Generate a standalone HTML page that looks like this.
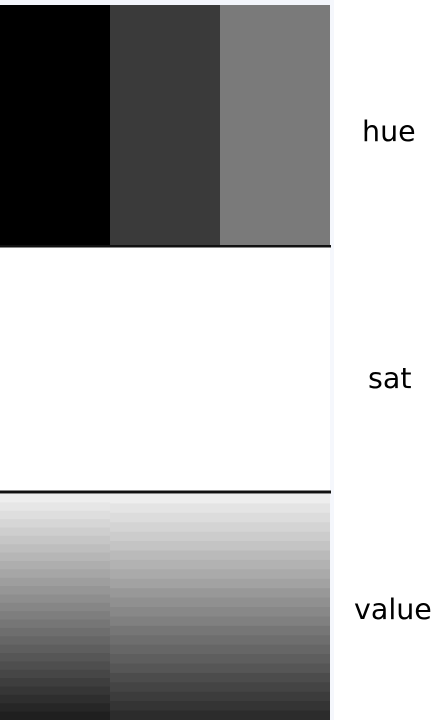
<!DOCTYPE html>
<html><head><meta charset="utf-8"><style>
html,body{margin:0;padding:0;background:#ffffff;width:440px;height:720px;overflow:hidden}
svg{display:block}
text{font-family:"DejaVu Sans","Liberation Sans",sans-serif;font-size:28.5px;fill:#000}
</style></head><body>
<svg id="chart" width="440" height="720">
<rect x="0" y="0" width="440" height="720" fill="#ffffff"/>
<rect x="0" y="0" width="331" height="5" fill="#f3f5fb"/>
<rect x="330" y="0" width="4" height="720" fill="#f5f7fc"/>
<g id="hue"></g>
<rect x="0" y="248" width="330" height="243" fill="#ffffff"/>
<g id="val"></g>
<rect x="0" y="245" width="331" height="2.5" fill="#111"/>
<rect x="0" y="490.5" width="331" height="3" fill="#111"/>
<text x="362" y="141">hue</text>
<text x="368" y="388">sat</text>
<text x="354" y="619">value</text>
</svg>
<script>
const hueGrays=[0,58,122];
const leftValues=[238,230,222,214,206,198,190,182,174,166,158,150,142,134,126,118,110,102,94,86,78,70,62,54,46,38,31];
const rightValues=[238,228,220,212,204,196,186,178,170,162,152,144,136,128,118,110,102,94,86,76,68,60,52,44];
const ns="http://www.w3.org/2000/svg";
const colW=110;
const hue=document.getElementById('hue');
hueGrays.forEach((g,i)=>{
  const r=document.createElementNS(ns,'rect');
  r.setAttribute('x',i*colW);r.setAttribute('y',5);r.setAttribute('width',colW);r.setAttribute('height',241);
  r.setAttribute('fill',`rgb(${g},${g},${g})`);
  
  
  hue.appendChild(r);
});
const val=document.getElementById('val');
const top0=494,bot=720;
function stripes(arr,x,w){
  const h=(bot-top0)/arr.length;
  arr.forEach((g,i)=>{
    const r=document.createElementNS(ns,'rect');
    r.setAttribute('x',x);r.setAttribute('y',top0+i*h);r.setAttribute('width',w);r.setAttribute('height',h+0.5);
    r.setAttribute('fill',`rgb(${g},${g},${g})`);
    
    
    val.appendChild(r);
  });
}
stripes(leftValues,0,colW);
stripes(rightValues,colW,2*colW);
</script>
</body></html>
